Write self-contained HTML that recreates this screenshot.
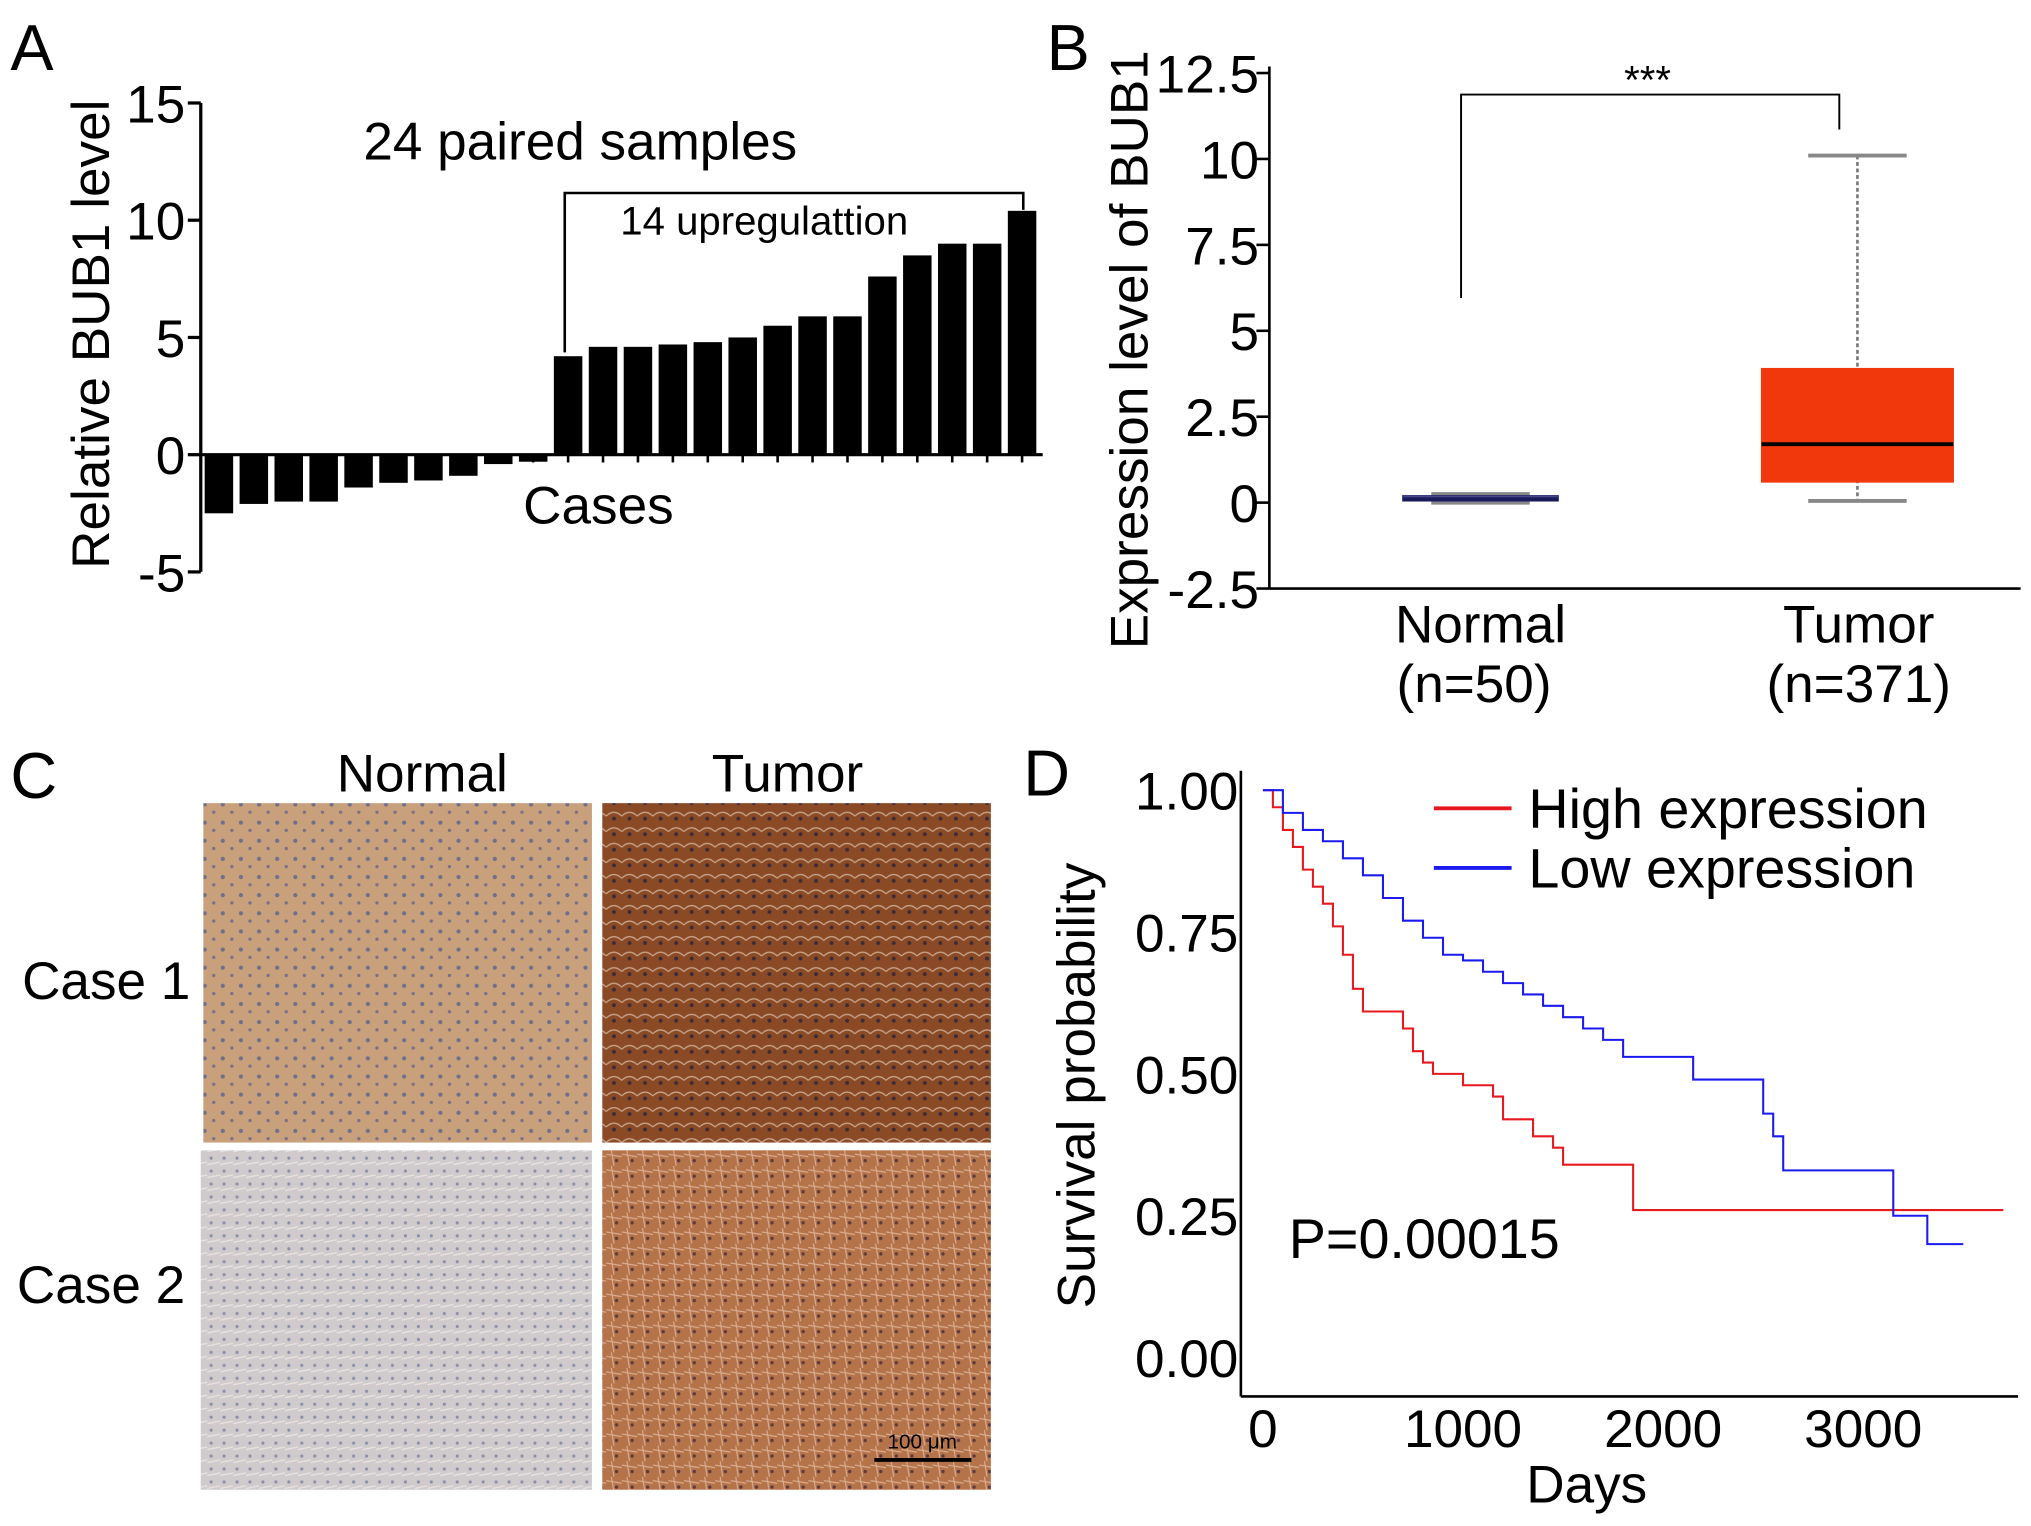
<!DOCTYPE html>
<html><head><meta charset="utf-8">
<style>
html,body{margin:0;padding:0;background:#fff;}
svg{display:block;font-family:"Liberation Sans",Arial,sans-serif;}
</style></head>
<body>
<svg id="fig" width="2031" height="1526" viewBox="0 0 1568 1178" preserveAspectRatio="none" xmlns="http://www.w3.org/2000/svg">
<defs>
<pattern id="cellsA" width="14" height="14" patternUnits="userSpaceOnUse"><rect width="14" height="14" fill="#c9a07c"/><circle cx="4" cy="5" r="1.6" fill="#6f6f8a"/><circle cx="11" cy="11" r="1.3" fill="#7a6f86"/></pattern>
<pattern id="cellsB" width="12" height="12" patternUnits="userSpaceOnUse"><rect width="12" height="12" fill="#8a4a26"/><path d="M0 6 Q6 0 12 6" stroke="#c9a48a" fill="none" stroke-width="1"/><circle cx="6" cy="8" r="1.5" fill="#3e2a35"/></pattern>
<pattern id="cellsC" width="10" height="10" patternUnits="userSpaceOnUse"><rect width="10" height="10" fill="#cfcbcc"/><circle cx="3" cy="4" r="1.2" fill="#8a8ea8"/><path d="M0 9 L10 7" stroke="#e8e4e2" stroke-width="1"/></pattern>
<pattern id="cellsD" width="12" height="12" patternUnits="userSpaceOnUse"><rect width="12" height="12" fill="#b5734a"/><path d="M0 3 L12 5 M4 0 L6 12" stroke="#d9ad90" stroke-width="0.9"/><circle cx="8" cy="8" r="1.3" fill="#5e3a3a"/></pattern>
</defs>

<g id="panelA">
<text x="8" y="54" font-size="50">A</text>
<text transform="translate(84,258) rotate(-90)" text-anchor="middle" font-size="41">Relative BUB1 level</text>
<text x="448" y="123" text-anchor="middle" font-size="41">24 paired samples</text>
<text x="462" y="404" text-anchor="middle" font-size="41">Cases</text>
<text x="590" y="181" text-anchor="middle" font-size="31">14 upregulattion</text>
<path d="M436 272 V149 H790 V162" stroke="#000" stroke-width="2" fill="none"/>
<g id="aAxis"></g><g id="aBars"></g>
</g>

<g id="panelB">
<text x="808" y="54" font-size="50">B</text>
<text transform="translate(886,270) rotate(-90)" text-anchor="middle" font-size="41">Expression level of BUB1</text>
<g id="bAxis"></g><g id="bBoxes"></g>
<path d="M1128 230 V73 H1420 V100" stroke="#000" stroke-width="1.5" fill="none"/>
<text x="1272" y="72" text-anchor="middle" font-size="31">***</text>
<text x="1143" y="496" text-anchor="middle" font-size="41">Normal</text>
<text x="1138" y="542" text-anchor="middle" font-size="41">(n=50)</text>
<text x="1435" y="496" text-anchor="middle" font-size="41">Tumor</text>
<text x="1435" y="542" text-anchor="middle" font-size="41">(n=371)</text>
</g>

<g id="panelC">
<text x="8" y="616" font-size="50">C</text>
<text x="326" y="611" text-anchor="middle" font-size="41">Normal</text>
<text x="608" y="611" text-anchor="middle" font-size="41">Tumor</text>
<text x="82" y="771" text-anchor="middle" font-size="41">Case 1</text>
<text x="78" y="1006" text-anchor="middle" font-size="41">Case 2</text>
<rect x="157" y="620" width="300" height="262" fill="url(#cellsA)"/>
<rect x="465" y="620" width="300" height="262" fill="url(#cellsB)"/>
<rect x="155" y="888" width="302" height="262" fill="url(#cellsC)"/>
<rect x="465" y="888" width="300" height="262" fill="url(#cellsD)"/>
<line x1="675" y1="1127" x2="750" y2="1127" stroke="#000" stroke-width="3"/>
<text x="712" y="1118" text-anchor="middle" font-size="16">100 μm</text>
</g>

<g id="panelD">
<text x="790" y="614" font-size="50">D</text>
<text transform="translate(845,838) rotate(-90)" text-anchor="middle" font-size="41">Survival probability</text>
<text x="1225" y="1160" text-anchor="middle" font-size="41">Days</text>
<line x1="1107" y1="624" x2="1167" y2="624" stroke="#e8191e" stroke-width="3"/>
<text x="1180" y="639" font-size="43">High expression</text>
<line x1="1107" y1="670" x2="1167" y2="670" stroke="#1b1bf0" stroke-width="3"/>
<text x="1180" y="685" font-size="43">Low expression</text>
<text x="995" y="971" font-size="43">P=0.00015</text>
<g id="dAxis"></g><g id="dCurves"></g>
</g>
</svg>
<script>
const aValues = [-2.5,-2.1,-2.0,-2.0,-1.4,-1.2,-1.1,-0.9,-0.4,-0.3,4.2,4.6,4.6,4.7,4.8,5.0,5.5,5.9,5.9,7.6,8.5,9.0,9.0,10.4];
const aTicks = [15,10,5,0,-5];
const bTicks = [12.5,10,7.5,5,2.5,0,-2.5];
const bTickLabels = ["12.5","10","7.5","5","2.5","0","-2.5"];
const bGroups = ["Normal","Tumor"];
const bMin = [0.0, 0.05];
const bQ1 = [0.05, 0.6];
const bMedian = [0.1, 1.7];
const bQ3 = [0.2, 3.9];
const bMax = [0.25, 10.1];
const dYTicks = [0,0.25,0.5,0.75,1.0];
const dYTickLabels = ["0.00","0.25","0.50","0.75","1.00"];
const dXTicks = [0,1000,2000,3000];
const highDays = [0,50,100,150,200,250,300,350,400,450,500,600,700,750,800,850,1000,1150,1200,1350,1450,1500,1800,1850,3700];
const highSurv = [1,0.97,0.93,0.9,0.86,0.83,0.8,0.76,0.71,0.65,0.61,0.61,0.58,0.54,0.52,0.5,0.48,0.46,0.42,0.39,0.37,0.34,0.34,0.26,0.26];
const lowDays = [0,100,200,300,400,500,600,700,800,900,1000,1100,1200,1300,1400,1500,1600,1700,1800,2100,2150,2450,2500,2550,2600,3100,3150,3300,3320,3500];
const lowSurv = [1,0.96,0.93,0.91,0.88,0.85,0.81,0.77,0.74,0.71,0.7,0.68,0.66,0.64,0.62,0.6,0.58,0.56,0.53,0.53,0.49,0.49,0.43,0.39,0.33,0.33,0.25,0.25,0.2,0.2];

const NS="http://www.w3.org/2000/svg";
function mk(tag,attrs,parent,text){const e=document.createElementNS(NS,tag);for(const k in attrs)e.setAttribute(k,attrs[k]);if(text!==undefined)e.textContent=text;parent.appendChild(e);return e;}

const ay = v => 351 - v*18.1;
const ax = i => 158 + i*26.96;
const aAxis=document.getElementById('aAxis'), aBars=document.getElementById('aBars');
let l=mk('line',{x1:155,y1:ay(15),x2:155,y2:ay(-5),stroke:'#000','stroke-width':2.5},aAxis);


l=mk('line',{x1:155,y1:ay(0),x2:805,y2:ay(0),stroke:'#000','stroke-width':2.5},aAxis);


aTicks.forEach(t=>{
  mk('line',{x1:145,y1:ay(t),x2:155,y2:ay(t),stroke:'#000','stroke-width':2.5},aAxis);
  const tx=mk('text',{x:143,y:ay(t)+15,'text-anchor':'end','font-size':41},aAxis,String(t));
  
  
});
aValues.forEach((v,i)=>{
  const x=ax(i);
  mk('line',{x1:x+11,y1:ay(0),x2:x+11,y2:ay(0)+6,stroke:'#000','stroke-width':2},aAxis);
  const r=mk('rect',{x:x,y:Math.min(ay(v),ay(0)),width:22,height:Math.abs(ay(v)-ay(0)),fill:'#000'},aBars);
  
  
});

const by = v => 388 - v*26.53;
const bx = [1143,1434];
const bw = [120,148];
const bAxis=document.getElementById('bAxis'), bBoxes=document.getElementById('bBoxes');
l=mk('line',{x1:980,y1:by(12.5)-5,x2:980,y2:by(-2.5),stroke:'#000','stroke-width':2},bAxis);


l=mk('line',{x1:980,y1:by(-2.5),x2:1560,y2:by(-2.5),stroke:'#000','stroke-width':2},bAxis);


bTicks.forEach((t,i)=>{
  mk('line',{x1:970,y1:by(t),x2:980,y2:by(t),stroke:'#000','stroke-width':2},bAxis);
  const tx=mk('text',{x:972,y:by(t)+15,'text-anchor':'end','font-size':41},bAxis,bTickLabels[i]);
  
  
});
bGroups.forEach((g,i)=>{
  const c=bx[i], w=bw[i];
  const wl=mk('line',{x1:c,y1:by(bMax[i]),x2:c,y2:by(bMin[i]),stroke:'#777','stroke-width':2,'stroke-dasharray':'3,2'},bBoxes);
  
  
  [bMax[i],bMin[i]].forEach(v=>mk('line',{x1:c-38,y1:by(v),x2:c+38,y2:by(v),stroke:'#888','stroke-width':3},bBoxes));
  const r=mk('rect',{x:c-w/2,y:by(bQ3[i]),width:w,height:Math.max(by(bQ1[i])-by(bQ3[i]),3),fill:i?'#f0380c':'#5a5a9a',stroke:i?'#f0380c':'#2a2a70','stroke-width':1},bBoxes);
  
  
  const m=mk('line',{x1:c-w/2,y1:by(bMedian[i]),x2:c+w/2,y2:by(bMedian[i]),stroke:i?'#000':'#1a1a5a','stroke-width':3},bBoxes);
  
  
});

const dy = v => 1048 - v*438;
const dx = d => 975 + d*0.1545;
const dAxis=document.getElementById('dAxis'), dCurves=document.getElementById('dCurves');
l=mk('line',{x1:958,y1:595,x2:958,y2:1078,stroke:'#000','stroke-width':2},dAxis);


l=mk('line',{x1:958,y1:1078,x2:1558,y2:1078,stroke:'#000','stroke-width':2},dAxis);


dYTicks.forEach((t,i)=>{
  const tx=mk('text',{x:956,y:dy(t)+15,'text-anchor':'end','font-size':41},dAxis,dYTickLabels[i]);
  
  
});
dXTicks.forEach(t=>{
  const tx=mk('text',{x:dx(t),y:1117,'text-anchor':'middle','font-size':41},dAxis,String(t));
  
  
});
function stepPath(days,surv){let d='M'+dx(days[0])+' '+dy(surv[0]);for(let i=1;i<days.length;i++){d+=' H'+dx(days[i])+' V'+dy(surv[i]);}return d;}
let p=mk('path',{d:stepPath(highDays,highSurv),stroke:'#e8191e','stroke-width':1.6,fill:'none'},dCurves);


p=mk('path',{d:stepPath(lowDays,lowSurv),stroke:'#1b1bf0','stroke-width':1.6,fill:'none'},dCurves);


</script>
</body></html>
